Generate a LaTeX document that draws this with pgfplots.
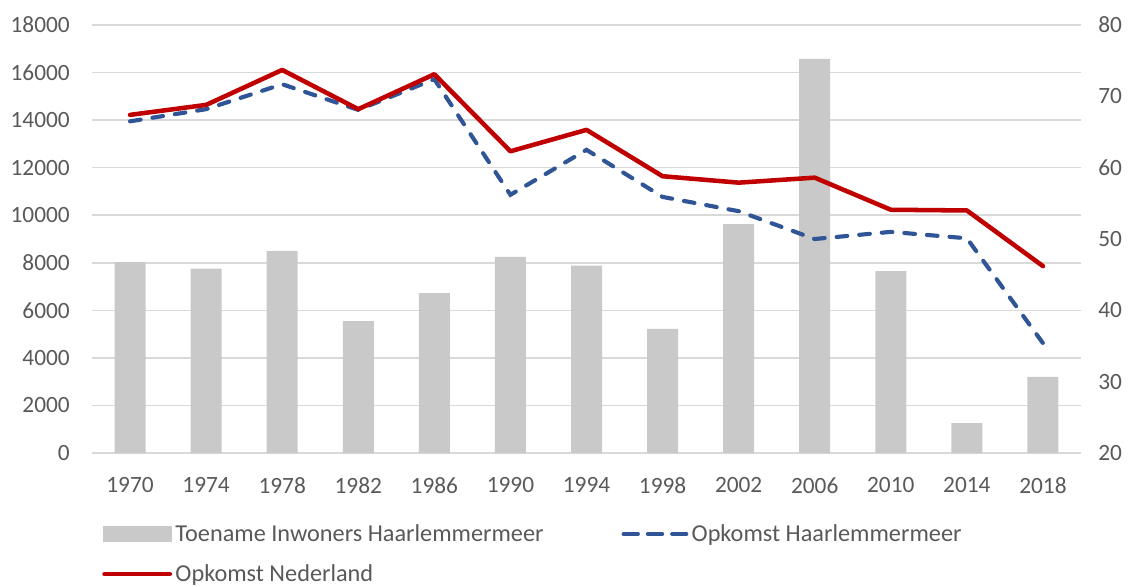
\documentclass[border=0pt]{standalone}
\usepackage{pgfplots}
\pgfplotsset{compat=1.18}
\usepackage{fontspec}
\setmainfont{Carlito}
\definecolor{barfill}{HTML}{C9C9C9}
\definecolor{nlred}{HTML}{C00000}
\definecolor{hmblue}{HTML}{2F5597}
\definecolor{gridc}{HTML}{D9D9D9}
\definecolor{txt}{HTML}{595959}
\pgfplotsset{
  common/.style={
    width=741.75pt,height=321pt,scale only axis,
    xmin=-0.5,xmax=12.5,
    axis line style={draw=none},
    tick style={draw=none},
    scaled ticks=false,
    tick label style={font=\fontsize{17.5}{20}\selectfont,text=txt},
    /pgf/number format/assume math mode=true,
    /pgf/number format/1000 sep={},
  },
  barleg/.style={legend image code/.code={\fill[barfill] (0pt,-5.5pt) rectangle (51pt,5.5pt);}},
  dashleg/.style={legend image code/.code={\draw[#1,dash pattern=on 10.7pt off 7.5pt] (3pt,0pt) -- (50pt,0pt);}},
  lineleg/.style={legend image code/.code={\draw[#1] (1pt,0pt) -- (50pt,0pt);}},
}
\begin{document}
\begin{tikzpicture}
\path[use as bounding box] (-69pt,-99.75pt) rectangle (782.25pt,339.75pt);
% left axis: bars
\begin{axis}[common,
  ymin=0,ymax=18000,ytick={0,2000,...,18000},
  ymajorgrids,grid style={gridc,line width=1.2pt},
  xtick={0,...,12},
  xticklabels={1970,1974,1978,1982,1986,1990,1994,1998,2002,2006,2010,2014,2018},
  yticklabel style={inner sep=0pt},yticklabel shift=16.5pt,
  xticklabel style={inner sep=0pt},xticklabel shift=18pt,
]
\addplot[ybar,bar width=23.25pt,fill=barfill,draw=none] coordinates {
  (0,8030)(1,7750)(2,8500)(3,5550)(4,6720)(5,8250)(6,7880)
  (7,5220)(8,9630)(9,16580)(10,7650)(11,1260)(12,3200)};
\end{axis}
% right axis: turnout lines
\begin{axis}[common,
  ymin=20,ymax=80,ytick={20,30,...,80},
  axis x line=none,axis y line*=right,
  yticklabel style={inner sep=0pt,anchor=west},yticklabel shift=12.75pt,
  legend columns=2,
  legend style={at={(0,0)},anchor=north west,xshift=7.5pt,yshift=-51pt,
    draw=none,font=\fontsize{18.2}{20}\selectfont,text=txt,
    inner sep=0pt,
    nodes={inner sep=2.5pt,anchor=west},
    /tikz/column 2/.style={column sep=56pt},
    row sep=11pt},
  legend cell align=left,
]
\addlegendimage{barleg}
\addlegendentry{Toename Inwoners Haarlemmermeer}
\addplot[hmblue,line width=3.1pt,line cap=round,dash pattern=on 8pt off 9pt,dashleg]
  coordinates {
  (0,66.5)(1,68.2)(2,71.7)(3,68.1)(4,72.4)(5,56.2)(6,62.5)
  (7,55.9)(8,53.9)(9,50.0)(10,51.0)(11,50.1)(12,35.4)};
\addlegendentry{Opkomst Haarlemmermeer}
\addplot[nlred,line width=3.4pt,line join=round,line cap=round,lineleg]
  coordinates {
  (0,67.4)(1,68.8)(2,73.7)(3,68.2)(4,73.1)(5,62.3)(6,65.3)
  (7,58.8)(8,57.9)(9,58.6)(10,54.1)(11,54.0)(12,46.2)};
\addlegendentry{Opkomst Nederland}
\end{axis}
\end{tikzpicture}
\end{document}
